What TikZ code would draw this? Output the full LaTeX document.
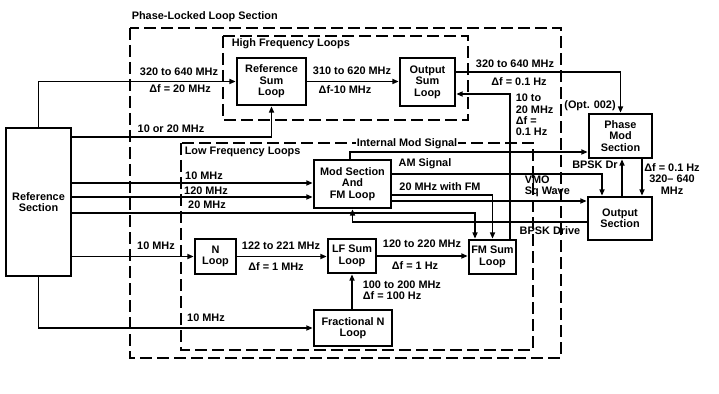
\documentclass[tikz,border=0pt]{standalone}
\usepackage{fontspec}
\setsansfont{Liberation Sans}
\usetikzlibrary{arrows.meta}

\begin{document}
\begin{tikzpicture}[
    x=0.3mm, y=-0.3mm,
    box/.style={
        draw=black,
        fill=white,
        align=center,
        inner sep=1pt,
        font=\fontsize{9.3}{9.8}\selectfont\sffamily\bfseries,
        line width=2.2pt
    },
    lbl/.style={
        inner sep=0.5pt,
        font=\fontsize{9.3}{9.8}\selectfont\sffamily\bfseries
    },
    region/.style={
        draw=black,
        line width=1.2pt,
        dash pattern=on 3.6mm off 1.5mm
    },
    arrow/.style={
        -{Triangle[length=1.9mm,width=1.5mm]},
        line width=1.3pt
    }
]
\useasboundingbox (0,0) rectangle (719,394);

% Sections
\draw[region] (130,28) rectangle (561,358);
\draw[region] (223,36) rectangle (468,120);
\draw[region] (181,143) rectangle (533,350);
\node[lbl, anchor=west] (pll) at (131,17) {Phase-Locked Loop Section};
\node[lbl, anchor=west] (hf) at (231,44) {High Frequency Loops};
\node[lbl, anchor=west] (lf) at (184,152) {Low Frequency Loops};

% Nodes
\node[box, minimum width=19.5mm, minimum height=44.4mm] (ref) at (38.5,202) {Reference\\Section};
\node[box, minimum width=20.7mm, minimum height=14.1mm] (refsum) at (271.5,81.5) {Reference\\Sum\\Loop};
\node[box, minimum width=16.5mm, minimum height=14.4mm] (outsum) at (427.5,82) {Output\\Sum\\Loop};
\node[box, minimum width=18.9mm, minimum height=13.2mm] (phasemod) at (620.5,136) {Phase\\Mod\\Section};
\node[box, minimum width=19.2mm, minimum height=12.9mm] (output) at (620,218.5) {Output\\Section};
\node[box, minimum width=23.1mm, minimum height=14.4mm] (modfm) at (352.5,184) {Mod Section\\And\\FM Loop};
\node[box, minimum width=12.3mm, minimum height=10.5mm] (nloop) at (215.5,256.5) {N\\Loop};
\node[box, minimum width=14.4mm, minimum height=10.2mm] (lfsum) at (352,256) {LF Sum\\Loop};
\node[box, minimum width=14.1mm, minimum height=10.2mm] (fmsum) at (492.5,257) {FM Sum\\Loop};
\node[box, minimum width=23.4mm, minimum height=10.8mm] (fracn) at (353,328) {Fractional N\\Loop};

% Paths
\draw[arrow] (ref.north) |- (refsum.west);
\draw[arrow] (ref.east |- 0,137) -| (refsum.south);
\draw[arrow] (refsum.east) -- (outsum.west |- refsum.east);
\draw[arrow] (outsum.east |- 0,72) -| (phasemod.north);
\draw[arrow] (fmsum.north -| 510,0) |- (outsum.east |- 0,94);
\draw[arrow] (ref.east |- 0,183) -- (modfm.west |- 0,183);
\draw[arrow] (ref.east |- 0,197) -- (modfm.west |- 0,197);
\draw[arrow] (ref.east |- 0,213) -| (fmsum.north -| 475,0);
\draw[arrow] (output.west |- 0,222) -| (modfm.south);
\draw[arrow] (modfm.north -| 350,0) |- (phasemod.west |- 0,152);
\draw[arrow] (modfm.east |- 0,174) -| (output.north -| 602,0);
\draw[arrow] (modfm.east |- 0,195) -| (fmsum.north);
\draw[arrow] (modfm.east |- 0,201) -- (output.west |- 0,201);
\draw[arrow] (output.north -| 622,0) -- (phasemod.south -| 622,0);
\draw[arrow] (phasemod.south -| 642,0) -- (output.north -| 642,0);
\draw[arrow] (ref.east |- nloop.west) -- (nloop.west);
\draw[arrow] (nloop.east) -- (lfsum.west |- nloop.east);
\draw[arrow] (lfsum.east) -- (fmsum.west |- lfsum.east);
\draw[arrow] (fracn.north -| lfsum.south) -- (lfsum.south);
\draw[arrow] (ref.south) |- (fracn.west);

% Labels
\node[lbl] (lrefa) at (179,72) {320 to 640 MHz};
\node[lbl] (lrefb) at (180,89) {Δf = 20 MHz};
\node[lbl] (lrefc) at (171,129) {10 or 20 MHz};
\node[lbl] (lsuma) at (352,71) {310 to 620 MHz};
\node[lbl] (lsumb) at (345,90) {Δf-10 MHz};
\node[lbl] (louta) at (515,64) {320 to 640 MHz};
\node[lbl] (loutb) at (519,82) {Δf = 0.1 Hz};
\node[lbl, align=left, anchor=west] (lfeed) at (515,115) {10 to\\20 MHz\\Δf =\\0.1 Hz};
\node[lbl] (lopt) at (590,106) {(Opt. 002)};
\node[lbl, fill=white] (lint) at (407,144) {Internal Mod Signal};
\node[lbl] (lam) at (425,164) {AM Signal};
\node[lbl] (lfm) at (440,187) {20 MHz with FM};
\node[lbl, align=left, anchor=south west] (lvmo) at (524,198) {VMO\\Sq Wave};
\node[lbl] (lbpsk) at (595,165) {BPSK Dr};
\node[lbl, align=center] (lphase) at (672,179) {Δf = 0.1 Hz\\320– 640\\MHz};
\node[lbl] (ldrive) at (550,231) {BPSK Drive};
\node[lbl] (lmoda) at (204,176) {10 MHz};
\node[lbl] (lmodb) at (206,191) {120 MHz};
\node[lbl] (lmodc) at (207,205) {20 MHz};
\node[lbl] (lna) at (156,246) {10 MHz};
\node[lbl] (lnb) at (281,246) {122 to 221 MHz};
\node[lbl] (lnc) at (276,267) {Δf = 1 MHz};
\node[lbl] (llfa) at (422,244) {120 to 220 MHz};
\node[lbl] (llfb) at (415,266) {Δf = 1 Hz};
\node[lbl, align=left, anchor=west] (lfrac) at (362,290) {100 to 200 MHz\\Δf = 100 Hz};
\node[lbl] (lfraca) at (206,318) {10 MHz};

\end{tikzpicture}
\end{document}
